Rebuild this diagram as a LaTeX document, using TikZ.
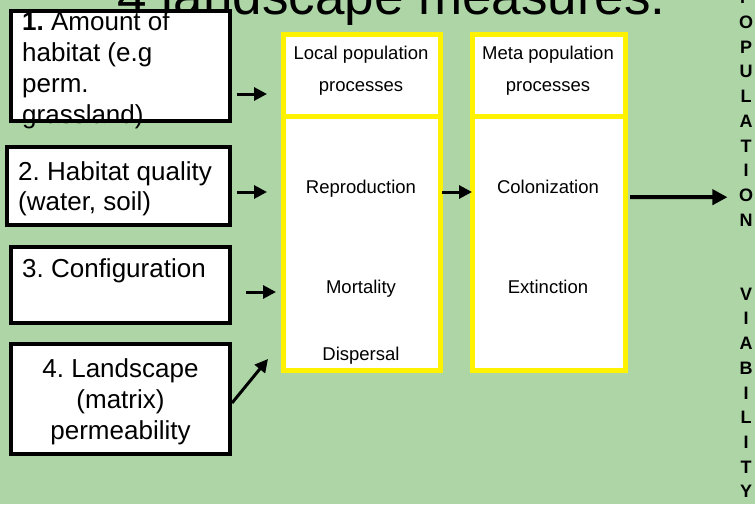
\documentclass[tikz,border=0pt]{standalone}
\usepackage{fontspec}
\setmainfont{Liberation Sans}
\usetikzlibrary{arrows.meta}
\definecolor{bggreen}{RGB}{173,213,166}
\begin{document}
\frenchspacing
\begin{tikzpicture}[x=1pt,y=-1pt,
  lbox/.style={draw=black,line width=4pt,fill=white,inner sep=0pt},
  ybox/.style={draw=yellow,line width=5pt,fill=white,inner sep=0pt},
  big/.style={font=\fontsize{26}{31}\selectfont,inner sep=0pt},
  small/.style={font=\fontsize{18.5}{22}\selectfont,inner sep=0pt,anchor=base},
  pvl/.style={font=\fontsize{18}{22}\selectfont\bfseries,anchor=base},
  titl/.style={font=\fontsize{53}{60}\selectfont,inner sep=0pt},
  arr/.style={line width=3pt,-{Triangle[length=13pt,width=13pt]}},
  bigarr/.style={line width=4pt,-{Triangle[length=15pt,width=15pt]}}]
\useasboundingbox (0,0) rectangle (755,504);
\fill[bggreen] (0,0) rectangle (755,504);
% title
\node[titl,anchor=base east] (title) at (666,14) {4 landscape measures:};
% left boxes
\node[lbox,minimum width=218.4pt,minimum height=109.4pt] (b1) at (120.5,66) {};
\node[big,anchor=base west] (t1a) at (22,30) {{\bfseries 1.} Amount of};
\node[big,anchor=base west] (t1b) at (22,61) {habitat (e.g};
\node[big,anchor=base west] (t1c) at (22,92) {perm.};
\node[big,anchor=base west] (t1d) at (22,123) {grassland)};
\node[lbox,minimum width=223pt,minimum height=78pt] (b2) at (118.5,186) {};
\node[big,anchor=base west] (t2a) at (18,180) {2. Habitat quality};
\node[big,anchor=base west] (t2b) at (18,210) {(water, soil)};
\node[lbox,minimum width=219pt,minimum height=76pt] (b3) at (120.5,285) {};
\node[big,anchor=base west] (t3a) at (22,277) {3. Configuration};
\node[lbox,minimum width=219pt,minimum height=110pt] (b4) at (120.5,399) {};
\node[big,anchor=base] (t4a) at (120.5,377) {4. Landscape};
\node[big,anchor=base] (t4b) at (120.5,408) {(matrix)};
\node[big,anchor=base] (t4c) at (120.5,439) {permeability};
% process columns
\node[ybox,minimum width=157pt,minimum height=254pt] (lb) at (362,243.5) {};
\node[ybox,minimum width=157pt,minimum height=82.5pt] (lh) at (362,75.25) {};
\node[ybox,minimum width=153pt,minimum height=254pt] (mb) at (549,243.5) {};
\node[ybox,minimum width=153pt,minimum height=82.5pt] (mh) at (549,75.25) {};
\node[small] (lh1) at (361,59.5) {Local population};
\node[small] (lh2) at (361,91.5) {processes};
\node[small] (mh1) at (548,59.5) {Meta population};
\node[small] (mh2) at (548,91.5) {processes};
\node[small] (rep) at (361,193) {Reproduction};
\node[small] (mor) at (361,293) {Mortality};
\node[small] (dis) at (361,360) {Dispersal};
\node[small] (col) at (548,193) {Colonization};
\node[small] (ext) at (548,293) {Extinction};
% population viability
\foreach \ch/\k in {P/0,O/1,P/2,U/3,L/4,A/5,T/6,I/7,O/8,N/9,V/12,I/13,A/14,B/15,I/16,L/17,I/18,T/19,Y/20}
  \node[pvl] (pv\k) at (746,{3.8+\k*24.7}) {\ch};
% arrows
\draw[arr] ([shift={(5,28)}]b1.east) -- ([shift={(-14,18.75)}]lh.west);
\draw[arr] ([shift={(5,6)}]b2.east) -- ([shift={(-14,-51.5)}]lb.west);
\draw[arr] ([shift={(14,7)}]b3.east) -- ([shift={(-5,48.5)}]lb.west);
\draw[arr] ([shift={(0,4)}]b4.east) -- ([shift={(-13,115.5)}]lb.west);
\draw[arr] ([shift={(-1,-51.5)}]lb.east) -- ([shift={(2,-51.5)}]mb.west);
\draw[bigarr] ([shift={(2,-46.5)}]mb.east) -- ([shift={(-8,2)}]pv8.west);
\end{tikzpicture}
\end{document}
